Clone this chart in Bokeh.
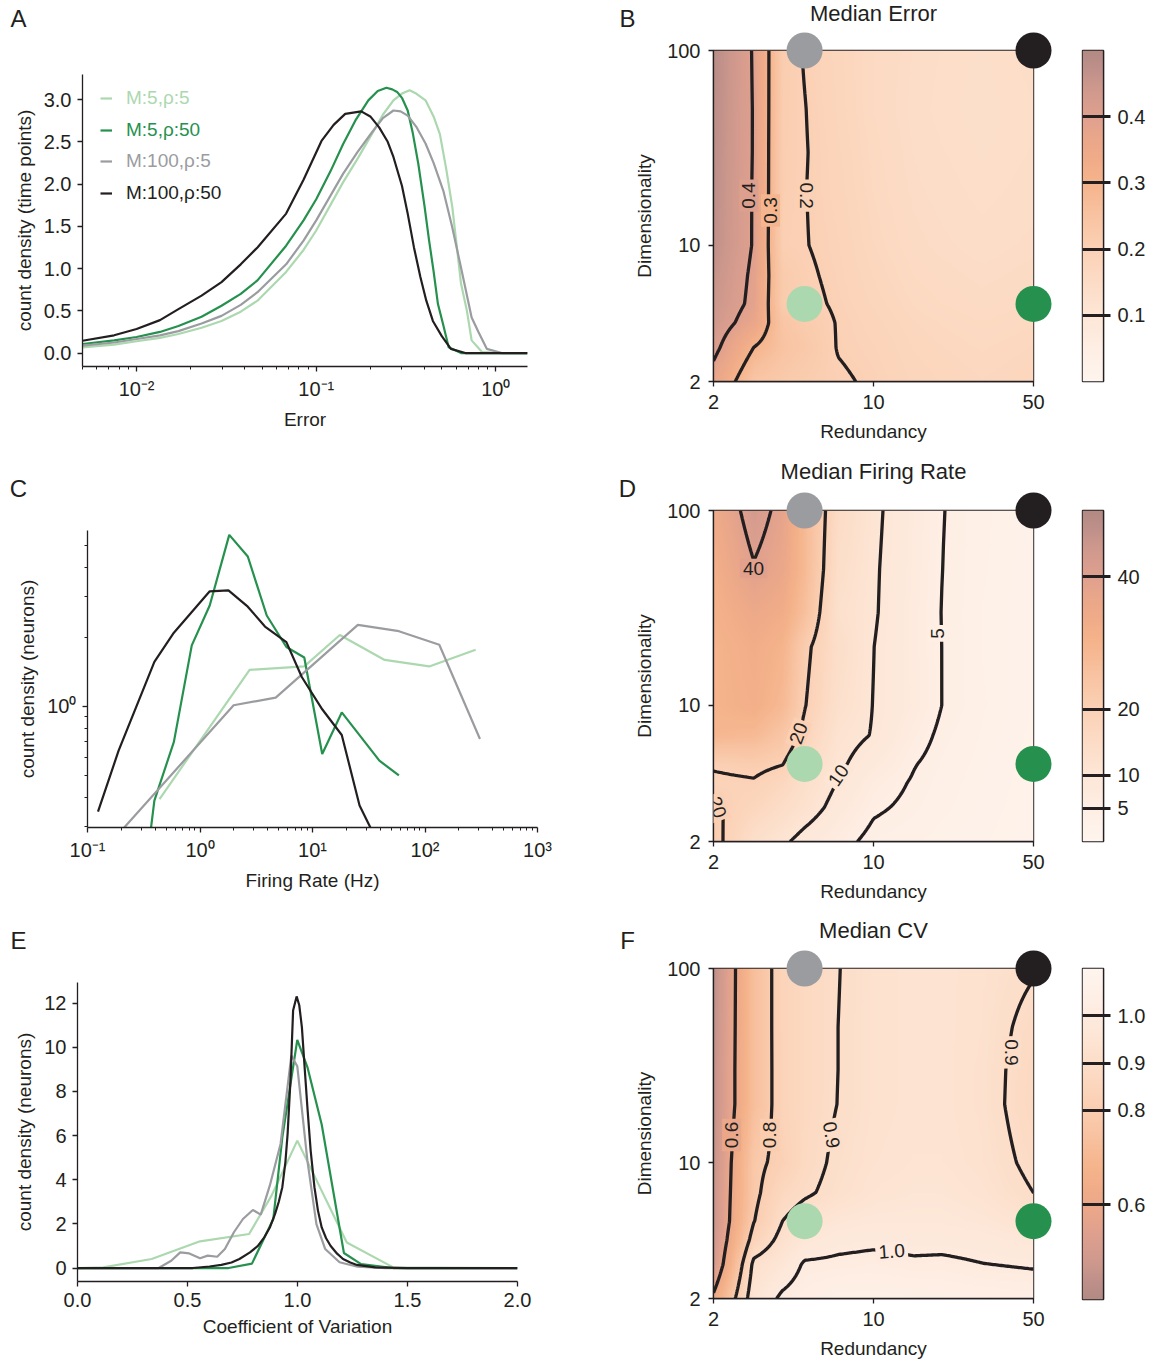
import numpy as np
from bokeh.plotting import figure
from bokeh.layouts import row, column
from bokeh.models import (FixedTicker, PrintfTickFormatter, Label, Legend, LegendItem,
                          LinearColorMapper)
from bokeh.core.properties import value
from bokeh.embed import file_html
from bokeh.resources import INLINE

FONT = "Liberation Sans"
INK = "#231f20"

# ---------------- series (M, rho) ----------------
series_labels = ["M:5,ρ:5", "M:5,ρ:50", "M:100,ρ:5", "M:100,ρ:50"]
series_colors = ["#acd8af", "#26914e", "#9b9ca0", "#231f20"]

# ---------------- Panel A : error distributions ----------------
errA_lg_x = [0.005, 0.0075, 0.01, 0.0135, 0.0171, 0.023, 0.0297, 0.038, 0.0471, 0.068, 0.085, 0.1,
             0.141, 0.17, 0.204, 0.235, 0.269, 0.3, 0.331, 0.36, 0.406, 0.45, 0.488, 0.53, 0.572,
             0.64, 0.69, 0.733, 0.84, 1.08, 1.5]
errA_lg_y = [0.067, 0.1, 0.14, 0.18, 0.225, 0.3, 0.38, 0.49, 0.62, 0.96, 1.22, 1.45,
             2.02, 2.3, 2.59, 2.82, 2.99, 3.07, 3.11, 3.07, 2.99, 2.8, 2.59, 2.17, 1.73,
             0.82, 0.5, 0.15, 0.01, 0.0, 0.0]
errA_dg_x = [0.005, 0.0075, 0.01, 0.0135, 0.0171, 0.023, 0.0297, 0.038, 0.0471, 0.068, 0.085, 0.1,
             0.12, 0.141, 0.165, 0.195, 0.22, 0.246, 0.265, 0.282, 0.3, 0.323, 0.345, 0.37, 0.4,
             0.425, 0.45, 0.476, 0.51, 0.546, 0.64, 1.5]
errA_dg_y = [0.107, 0.15, 0.19, 0.25, 0.32, 0.43, 0.56, 0.7, 0.86, 1.27, 1.57, 1.82,
             2.15, 2.47, 2.75, 2.99, 3.1, 3.14, 3.12, 3.09, 3.02, 2.87, 2.6, 2.24, 1.75,
             1.33, 0.97, 0.58, 0.33, 0.07, 0.0, 0.0]
errA_gr_x = [0.005, 0.0075, 0.01, 0.0135, 0.0171, 0.023, 0.0297, 0.038, 0.0471, 0.068, 0.085, 0.1,
             0.141, 0.17, 0.204, 0.235, 0.269, 0.295, 0.323, 0.36, 0.406, 0.45, 0.51, 0.57, 0.64,
             0.733, 0.8, 0.89, 1.08, 1.5]
errA_gr_y = [0.087, 0.125, 0.166, 0.21, 0.26, 0.35, 0.44, 0.57, 0.72, 1.05, 1.33, 1.57,
             2.12, 2.38, 2.61, 2.78, 2.87, 2.86, 2.81, 2.68, 2.48, 2.25, 1.92, 1.5, 1.01,
             0.42, 0.25, 0.05, 0.0, 0.0]
errA_bk_x = [0.005, 0.0075, 0.01, 0.0135, 0.0171, 0.023, 0.0297, 0.038, 0.0471, 0.068, 0.085, 0.107,
             0.125, 0.145, 0.178, 0.2, 0.224, 0.25, 0.269, 0.3, 0.323, 0.35, 0.38, 0.41, 0.446,
             0.5, 0.562, 0.676, 1.5]
errA_bk_y = [0.146, 0.21, 0.284, 0.39, 0.52, 0.68, 0.84, 1.05, 1.25, 1.65, 2.05, 2.51,
             2.7, 2.83, 2.86, 2.8, 2.67, 2.5, 2.32, 1.98, 1.65, 1.25, 0.9, 0.62, 0.38,
             0.2, 0.05, 0.0, 0.0]

# ---------------- Panel C : firing-rate distributions ----------------
frC_lg_x = [0.437, 2.76, 8.45, 17.5, 43.8, 109, 282]
frC_lg_y = [0.395, 1.44, 1.49, 2.04, 1.59, 1.49, 1.76]
frC_dg_x = [0.365, 0.393, 0.586, 0.845, 1.22, 1.82, 2.66, 3.92, 5.86, 8.45, 12.2, 18.2, 39.3, 58.6]
frC_dg_y = [0.29, 0.389, 0.70, 1.84, 2.74, 5.56, 4.48, 2.48, 1.81, 1.63, 0.62, 0.94, 0.58, 0.50]
frC_gr_x = [0.203, 1.99, 4.71, 25.3, 58.6, 134, 308]
frC_gr_y = [0.29, 1.01, 1.09, 2.26, 2.12, 1.85, 0.72]
frC_bk_x = [0.124, 0.189, 0.393, 0.578, 1.22, 1.79, 2.66, 3.78, 5.86, 8.03, 12.2, 18.2, 26.2, 33.5]
frC_bk_y = [0.348, 0.641, 1.56, 2.07, 3.16, 3.19, 2.71, 2.22, 1.90, 1.34, 0.97, 0.75, 0.37, 0.29]

# ---------------- Panel E : CV distributions ----------------
cvE_lg_x = [0, 0.117, 0.337, 0.557, 0.78, 0.882, 0.999, 1.224, 1.435, 2.0]
cvE_lg_y = [0, 0.03, 0.41, 1.21, 1.54, 3.28, 5.77, 1.16, 0.03, 0]
cvE_dg_x = [0, 0.687, 0.793, 0.89, 0.931, 0.999, 1.045, 1.11, 1.211, 1.289, 1.435, 2.0]
cvE_dg_y = [0, 0, 0.2, 2.22, 5.92, 10.33, 9.1, 6.5, 0.68, 0.18, 0, 0]
cvE_gr_x = [0, 0.369, 0.426, 0.467, 0.508, 0.557, 0.592, 0.635, 0.67, 0.711, 0.752, 0.797, 0.833,
            0.874, 0.923, 0.972, 0.999, 1.045, 1.086, 1.126, 1.191, 1.273, 1.4, 2.0]
cvE_gr_y = [0, 0, 0.33, 0.71, 0.66, 0.44, 0.56, 0.51, 0.86, 1.62, 2.22, 2.63, 2.42,
            3.73, 5.62, 9.62, 9.14, 4.86, 1.99, 0.86, 0.26, 0.06, 0.0, 0]
cvE_bk_x = [0, 0.524, 0.6, 0.654, 0.7, 0.736, 0.784, 0.82, 0.849, 0.875, 0.898, 0.915, 0.931, 0.945,
            0.955, 0.968, 0.98, 0.996, 1.008, 1.02, 1.033, 1.045, 1.06, 1.077, 1.093, 1.11, 1.13,
            1.15, 1.18, 1.207, 1.24, 1.27, 1.354, 1.5, 2.0]
cvE_bk_y = [0, 0, 0.07, 0.14, 0.25, 0.41, 0.71, 1.0, 1.39, 1.85, 2.45, 3.0, 3.66, 4.8,
            6.07, 8.5, 11.66, 12.3, 11.9, 10.9, 9.0, 7.28, 5.3, 3.66, 2.6, 1.84, 1.35,
            1.01, 0.65, 0.41, 0.25, 0.14, 0.03, 0.0, 0]

# ---------------- heat-map grids (rows: dimensionality, cols: redundancy) ----------------
redundancy = [2, 3, 4, 5, 7, 10, 15, 20, 30, 50]
dimensionality = [2, 3, 4, 5, 7, 10, 20, 30, 50, 100]

median_error = [
    [0.37, 0.24, 0.225, 0.215, 0.205, 0.195, 0.18, 0.175, 0.17, 0.175],
    [0.42, 0.30, 0.25, 0.23, 0.198, 0.19, 0.175, 0.17, 0.165, 0.17],
    [0.44, 0.365, 0.24, 0.22, 0.198, 0.185, 0.17, 0.165, 0.16, 0.165],
    [0.45, 0.385, 0.217, 0.21, 0.195, 0.18, 0.165, 0.16, 0.155, 0.16],
    [0.46, 0.389, 0.22, 0.206, 0.192, 0.175, 0.16, 0.155, 0.15, 0.155],
    [0.47, 0.396, 0.206, 0.2015, 0.19, 0.17, 0.155, 0.15, 0.145, 0.15],
    [0.475, 0.396, 0.21, 0.201, 0.185, 0.165, 0.15, 0.145, 0.14, 0.145],
    [0.477, 0.397, 0.21, 0.202, 0.183, 0.163, 0.148, 0.143, 0.138, 0.143],
    [0.48, 0.397, 0.212, 0.201, 0.18, 0.16, 0.146, 0.14, 0.136, 0.142],
    [0.485, 0.395, 0.215, 0.198, 0.178, 0.16, 0.148, 0.142, 0.138, 0.145],
]
median_rate = [
    [22, 13.5, 10.8, 8.5, 6.2, 4.0, 3.4, 3.0, 2.6, 2.1],
    [20.8, 17.5, 14.5, 12.2, 8.5, 5.5, 4.3, 3.5, 2.8, 2.2],
    [19, 19.5, 17, 13.5, 9.8, 6.5, 4.7, 3.7, 2.9, 2.25],
    [20.6, 21.5, 20.2, 15, 10.7, 8, 5.15, 4.0, 3.0, 2.3],
    [29, 28, 24, 18.5, 11.5, 9.79, 6.2, 4.4, 3.2, 2.4],
    [30, 32, 28, 20.3, 13, 9.9, 7.2, 4.95, 3.4, 2.5],
    [30, 33, 30, 21.5, 14, 10.05, 7, 4.95, 3.3, 2.5],
    [31, 35, 33, 26, 12.8, 10.4, 7, 4.9, 3.3, 2.5],
    [32, 39.5, 36, 28, 13.9, 10.5, 7.2, 5.0, 3.4, 2.6],
    [34, 43.0, 38.0, 28, 15.2, 10.8, 7.4, 5.1, 3.5, 2.6],
]
median_cv = [
    [0.62, 0.953, 1.012, 1.03, 1.05, 1.05, 1.045, 1.04, 1.035, 1.03],
    [0.50, 0.92, 0.96, 1.007, 1.01, 1.015, 1.008, 1.01, 1.001, 0.995],
    [0.48, 0.84, 0.925, 0.965, 0.985, 0.99, 0.985, 0.985, 0.98, 0.965],
    [0.47, 0.797, 0.9, 0.935, 0.96, 0.97, 0.97, 0.97, 0.96, 0.935],
    [0.47, 0.78, 0.865, 0.89, 0.92, 0.945, 0.955, 0.955, 0.94, 0.9],
    [0.46, 0.778, 0.825, 0.875, 0.913, 0.935, 0.945, 0.945, 0.93, 0.885],
    [0.45, 0.733, 0.839, 0.87, 0.901, 0.93, 0.94, 0.94, 0.925, 0.867],
    [0.45, 0.733, 0.839, 0.87, 0.9, 0.93, 0.94, 0.94, 0.925, 0.87],
    [0.445, 0.733, 0.84, 0.87, 0.9, 0.93, 0.94, 0.94, 0.928, 0.88],
    [0.44, 0.733, 0.84, 0.87, 0.898, 0.93, 0.94, 0.94, 0.93, 0.905],
]

error_levels = [0.1, 0.2, 0.3, 0.4]
rate_levels = [5, 10, 20, 40]
cv_levels = [0.6, 0.8, 0.9, 1.0]

error_labels = [("0.4", 2.85, 18.0, 90), ("0.3", 3.55, 15.1, 90), ("0.2", 5.1, 18.0, -90)]
rate_labels = [("40", 2.99, 50.5, 0), ("20", 4.7, 7.18, 70), ("10", 7.03, 4.37, 55),
               ("5", 19.0, 23.4, 90), ("20", 2.08, 3.0, -70)]
cv_labels = [("0.6", 2.4, 13.9, 90), ("0.8", 3.52, 13.9, 90), ("0.9", 6.55, 13.9, -80),
             ("0.9", 40.0, 37.0, -90), ("1.0", 12.0, 3.5, 4)]

marker_redundancy = [5, 50, 5, 50]
marker_dimensionality = [5, 5, 100, 100]
marker_colors = ["#acd8af", "#26914e", "#9b9ca0", "#231f20"]

# ---------------- colour map ----------------
ANCHOR_POS = [0.0, 0.1, 0.2, 0.3, 0.4, 0.5, 0.6, 0.66, 0.74, 0.8, 0.84, 0.9, 0.94, 1.0]
ANCHOR_HEX = ["#fef5ee", "#feeee4", "#fde6d6", "#fcdcc6", "#fbd1b5", "#f8c3a2", "#f5b48c",
              "#f1ad88", "#e9a68a", "#dfa08e", "#d89d8e", "#cc978c", "#c0918a", "#b38a84"]


def build_palette(n=256):
    rgb = np.array([[int(h[i:i + 2], 16) for i in (1, 3, 5)] for h in ANCHOR_HEX], float)
    t = np.linspace(0, 1, n)
    ch = [np.interp(t, ANCHOR_POS, rgb[:, c]) for c in range(3)]
    return ["#%02x%02x%02x" % (int(round(r)), int(round(g)), int(round(b))) for r, g, b in zip(*ch)]


PAL = build_palette()
PAL_R = PAL[::-1]


def smooth_grid(z, n=200):
    lx = np.log10(redundancy)
    ly = np.log10(dimensionality)
    ux = np.linspace(lx[0], lx[-1], n)
    uy = np.linspace(ly[0], ly[-1], n)
    z = np.asarray(z, float)
    tmp = np.array([np.interp(ux, lx, r) for r in z])
    zf = np.array([np.interp(uy, ly, tmp[:, j]) for j in range(n)]).T
    return ux, uy, zf


def style(p, tick_size="20px", label_size="19px", standoff=6, label_standoff=6):
    for ax in p.axis:
        ax.axis_line_color = INK
        ax.axis_line_width = 1.3
        ax.major_tick_line_color = INK
        ax.major_tick_line_width = 1.3
        ax.major_tick_out = 5
        ax.major_tick_in = 0
        ax.minor_tick_line_color = INK
        ax.minor_tick_line_width = 1
        ax.minor_tick_out = 3
        ax.minor_tick_in = 0
        ax.major_label_text_font = FONT
        ax.major_label_text_font_size = tick_size
        ax.major_label_text_color = INK
        ax.major_label_standoff = standoff
        ax.axis_label_text_font = FONT
        ax.axis_label_text_font_size = label_size
        ax.axis_label_text_font_style = "normal"
        ax.axis_label_text_color = INK
        ax.axis_label_standoff = label_standoff
    p.grid.visible = False
    p.background_fill_color = "white"
    p.border_fill_color = "white"


def make_fig(width, height, borders, **kw):
    l, r, t, b = borders
    return figure(width=width, height=height, min_border_left=l, min_border_right=r,
                  min_border_top=t, min_border_bottom=b, toolbar_location=None,
                  output_backend="svg", frame_align=False, **kw)


def page_text(p, text, px, py, frame, xr, yr, xlog=False, ylog=False, size="22px"):
    """Place a text (outside the frame) given its page position, via the plot's own ranges."""
    l, t, r, b = frame
    fx = (px - l) / (r - l)
    fy = (b - py) / (b - t)
    if xlog:
        x = 10 ** (np.log10(xr[0]) + fx * (np.log10(xr[1]) - np.log10(xr[0])))
    else:
        x = xr[0] + fx * (xr[1] - xr[0])
    if ylog:
        y = 10 ** (np.log10(yr[0]) + fy * (np.log10(yr[1]) - np.log10(yr[0])))
    else:
        y = yr[0] + fy * (yr[1] - yr[0])
    p.text(x=[float(x)], y=[float(y)], text=[text], text_font=value(FONT),
           text_font_size=value(size), text_color=INK, text_align="center",
           text_baseline="middle", level="overlay")


minor_dec = [2, 3, 4, 5, 6, 7, 8, 9]

# ---------------- Panel A ----------------
A_xr, A_yr = (0.005, 1.5), (-0.159, 3.296)
pA = make_fig(583, 458, (82, 56, 74, 92), x_axis_type="log", x_range=A_xr, y_range=A_yr)
style(pA)
pA.outline_line_color = None
pA.xaxis.ticker = FixedTicker(ticks=[0.01, 0.1, 1.0],
                              minor_ticks=[k * 10.0 ** e for e in (-3, -2, -1) for k in minor_dec])
pA.xaxis.major_label_overrides = {0.01: "10⁻²", 0.1: "10⁻¹", 1.0: "10⁰"}
pA.yaxis.ticker = FixedTicker(ticks=[0, 0.5, 1.0, 1.5, 2.0, 2.5, 3.0])
pA.yaxis.formatter = PrintfTickFormatter(format="%.1f")
pA.xaxis.axis_label = "Error"
pA.yaxis.axis_label = "count density (time points)"
rendA = []
for xs, ys, c in zip([errA_lg_x, errA_dg_x, errA_gr_x, errA_bk_x],
                     [errA_lg_y, errA_dg_y, errA_gr_y, errA_bk_y], series_colors):
    rendA.append(pA.line(xs, ys, line_color=c, line_width=2.2))
legend_y = [257, 225, 194, 162]
for r, lab, c, ly in zip(rendA, series_labels, series_colors, legend_y):
    lg = Legend(items=[LegendItem(label=lab, renderers=[r])], location=(18, ly),
                background_fill_alpha=0, border_line_color=None, padding=0, margin=0,
                spacing=0, glyph_width=12, glyph_height=20, label_height=20, label_standoff=14,
                label_text_font=FONT, label_text_font_size="19px", label_text_color=c)
    pA.add_layout(lg)
page_text(pA, "A", 18, 18, (82, 74, 527, 366), A_xr, A_yr, xlog=True, size="24px")

# ---------------- Panel C ----------------
C_xr, C_yr = (0.1, 1000), (0.297, 5.81)
pC = make_fig(583, 460, (87, 46, 72, 91), x_axis_type="log", y_axis_type="log",
              x_range=C_xr, y_range=C_yr)
style(pC)
pC.outline_line_color = None
pC.xaxis.ticker = FixedTicker(ticks=[0.1, 1.0, 10.0, 100.0, 1000.0],
                              minor_ticks=[k * 10.0 ** e for e in (-1, 0, 1, 2) for k in minor_dec])
pC.xaxis.major_label_overrides = {0.1: "10⁻¹", 1.0: "10⁰", 10.0: "10¹", 100.0: "10²", 1000.0: "10³"}
pC.yaxis.ticker = FixedTicker(ticks=[1.0], minor_ticks=[0.3, 0.4, 0.5, 0.6, 0.7, 0.8, 0.9, 2, 3, 4, 5])
pC.yaxis.major_label_overrides = {1.0: "10⁰"}
pC.xaxis.axis_label = "Firing Rate (Hz)"
pC.yaxis.axis_label = "count density (neurons)"
for xs, ys, c in zip([frC_lg_x, frC_dg_x, frC_gr_x, frC_bk_x],
                     [frC_lg_y, frC_dg_y, frC_gr_y, frC_bk_y], series_colors):
    pC.line(xs, ys, line_color=c, line_width=2.2)
page_text(pC, "C", 18, 488, (87, 530, 537, 827), C_xr, C_yr, xlog=True, ylog=True, size="24px")

# ---------------- Panel E ----------------
E_xr, E_yr = (0, 2), (-0.61, 12.93)
pE = make_fig(583, 443, (77, 66, 64, 80), x_range=E_xr, y_range=E_yr)
style(pE)
pE.outline_line_color = None
pE.xaxis.ticker = FixedTicker(ticks=[0, 0.5, 1.0, 1.5, 2.0])
pE.xaxis.formatter = PrintfTickFormatter(format="%.1f")
pE.yaxis.ticker = FixedTicker(ticks=[0, 2, 4, 6, 8, 10, 12])
pE.yaxis.formatter = PrintfTickFormatter(format="%d")
pE.xaxis.axis_label = "Coefficient of Variation"
pE.yaxis.axis_label = "count density (neurons)"
for xs, ys, c in zip([cvE_lg_x, cvE_dg_x, cvE_gr_x, cvE_bk_x],
                     [cvE_lg_y, cvE_dg_y, cvE_gr_y, cvE_bk_y], series_colors):
    pE.line(xs, ys, line_color=c, line_width=2.2)
page_text(pE, "E", 18, 940, (77, 982, 517, 1281), E_xr, E_yr, size="24px")


# ---------------- heat maps ----------------
H_xr, H_yr = (2, 50), (2, 100)


def heat_panel(z, low, high, pal, levels, labels, height, top, bottom, letter, title,
               frame, letter_py, title_py):
    p = make_fig(477, height, (130, 27, top, bottom), x_axis_type="log", y_axis_type="log",
                 x_range=H_xr, y_range=H_yr)
    style(p, tick_size="20px", label_size="19px", standoff=8, label_standoff=9)
    p.outline_line_color = INK
    p.outline_line_width = 1.4
    ux, uy, zf = smooth_grid(z)
    mapper = LinearColorMapper(palette=pal, low=low, high=high)
    p.image(image=[zf], x=2, y=2, dw=48, dh=98, color_mapper=mapper)
    p.contour(x=10 ** ux, y=10 ** uy, z=zf, levels=levels, line_color=INK, line_width=3.3)
    for txt, xr, yd, ang in labels:
        j = int(np.argmin(np.abs(ux - np.log10(xr))))
        i = int(np.argmin(np.abs(uy - np.log10(yd))))
        k = int(np.clip(round((zf[i, j] - low) / (high - low) * (len(pal) - 1)), 0, len(pal) - 1))
        p.add_layout(Label(x=xr, y=yd, text=txt, angle=ang, angle_units="deg",
                           text_align="center", text_baseline="middle", text_font=FONT,
                           text_font_size="19px", text_color=INK,
                           background_fill_color=pal[k], padding=3))
    p.scatter(x=marker_redundancy, y=marker_dimensionality, size=36, fill_color=marker_colors,
              line_color=None, level="overlay")
    p.xaxis.ticker = FixedTicker(ticks=[2, 10, 50])
    p.yaxis.ticker = FixedTicker(ticks=[2, 10, 100])
    p.xaxis.formatter = PrintfTickFormatter(format="%d")
    p.yaxis.formatter = PrintfTickFormatter(format="%d")
    p.xaxis.axis_label = "Redundancy"
    p.yaxis.axis_label = "Dimensionality"
    page_text(p, letter, 627, letter_py, frame, H_xr, H_yr, True, True, size="24px")
    page_text(p, title, 873, title_py, frame, H_xr, H_yr, True, True, size="22px")
    return p


def cbar_panel(low, high, pal, ticks, fmt, height, top, bottom):
    p = make_fig(91, height, (22, 48, top, bottom), x_range=(0, 1), y_range=(low, high),
                 x_axis_location=None, y_axis_location="right")
    style(p, tick_size="20px", standoff=7)
    grad = np.linspace(low, high, 256).reshape(-1, 1)
    p.image(image=[grad], x=0, y=low, dw=1, dh=high - low,
            color_mapper=LinearColorMapper(palette=pal, low=low, high=high))
    p.outline_line_color = INK
    p.outline_line_width = 1.4
    ax = p.yaxis[0]
    ax.ticker = FixedTicker(ticks=ticks)
    ax.formatter = PrintfTickFormatter(format=fmt)
    ax.major_tick_in = 21
    ax.major_tick_out = 7
    ax.major_tick_line_width = 3
    return p


pB = heat_panel(median_error, 0.0, 0.5, PAL, error_levels, error_labels, 458, 50, 77,
                "B", "Median Error", (713, 50, 1033, 381), 18, 13)
cbB = cbar_panel(0.0, 0.5, PAL, [0.1, 0.2, 0.3, 0.4], "%.1f", 458, 50, 77)

pD = heat_panel(median_rate, 0.0, 50.0, PAL, rate_levels, rate_labels, 460, 52, 77,
                "D", "Median Firing Rate", (713, 510, 1033, 841), 488, 471)
cbD = cbar_panel(0.0, 50.0, PAL, [5, 10, 20, 40], "%d", 460, 52, 77)

pF = heat_panel(median_cv, 0.4, 1.1, PAL_R, cv_levels, cv_labels, 443, 50, 62,
                "F", "Median CV", (713, 968, 1033, 1299), 940, 930)
cbF = cbar_panel(0.4, 1.1, PAL_R, [0.6, 0.8, 0.9, 1.0], "%.1f", 443, 50, 62)

layout = column(row(pA, pB, cbB), row(pC, pD, cbD), row(pE, pF, cbF))
open("out.html", "w").write(file_html(layout, INLINE))
